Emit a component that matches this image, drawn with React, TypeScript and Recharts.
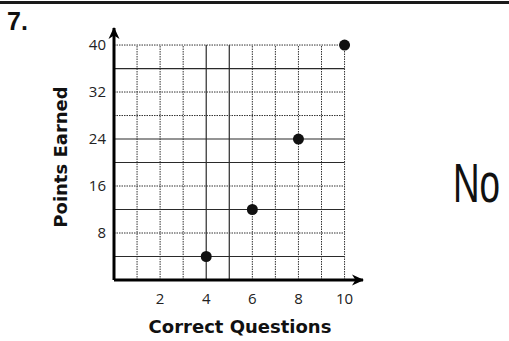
import {
  ScatterChart,
  Scatter,
  XAxis,
  YAxis,
  ReferenceLine,
  Label,
} from "recharts";

// plotted results
const correctQuestions = [4, 6, 8, 10];
const pointsEarned = [4, 12, 24, 40];

// tick labels and grid positions
const xTicks = [2, 4, 6, 8, 10];
const yTicks = [8, 16, 24, 32, 40];
const xGrid = [1, 2, 3, 4, 5, 6, 7, 8, 9, 10];
const yGrid = [4, 8, 12, 16, 20, 24, 28, 32, 36, 40];

// the axes run a little past the last grid line to make room for arrows
const X_MAX = 10;
const Y_MAX = 40;
const X_AXIS_END = 10.8;
const Y_AXIS_END = 42.9;

// printed grid has a few heavier lines
const heavyX = [4, 5];
const heavyY = [4, 12, 20, 24, 36];

const points = correctQuestions.map((x, i) => ({ x, y: pointsEarned[i] }));

const tickStyle = { fontSize: 15, fill: "#222", fontFamily: "'Open Sans', sans-serif" };
const titleFont = "'DejaVu Sans', sans-serif";

const Dot = (props: any) => (
  <circle cx={props.cx} cy={props.cy} r={5.5} fill="#111" />
);

const gridStroke = (heavy: boolean) =>
  heavy
    ? { stroke: "#2a2a2a", strokeWidth: 1.2 }
    : { stroke: "#333", strokeWidth: 1, strokeDasharray: "1.5 1" };

export default function App() {
  return (
    <div
      style={{
        position: "absolute",
        left: 0,
        top: 0,
        width: 509,
        height: 341,
        background: "#fff",
        overflow: "hidden",
      }}
    >
      <svg width={0} height={0} style={{ position: "absolute" }}>
        <defs>
          <marker
            id="axisArrow"
            viewBox="0 0 12 12"
            refX={11}
            refY={6}
            markerWidth={12}
            markerHeight={12}
            markerUnits="userSpaceOnUse"
            orient="auto-start-reverse"
          >
            <path d="M0,0.5 L12,6 L0,11.5 L3.5,6 z" fill="#000" />
          </marker>
        </defs>
      </svg>

      <div
        style={{
          position: "absolute",
          left: 0,
          top: 1,
          width: 509,
          height: 3,
          background: "#1a1a1a",
        }}
      />
      <div
        style={{
          position: "absolute",
          left: 7,
          top: 7,
          fontFamily: "'Liberation Sans', Arial, sans-serif",
          fontWeight: 700,
          fontSize: 25,
          color: "#111",
        }}
      >
        7.
      </div>
      {/* handwritten answer, squeezed horizontally */}
      <div
        style={{
          position: "absolute",
          left: 453,
          top: 156,
          fontFamily: "'Liberation Sans', sans-serif",
          fontWeight: 400,
          fontSize: 55,
          color: "#111",
          lineHeight: 1,
          transform: "scaleX(0.67)",
          transformOrigin: "0 0",
          whiteSpace: "nowrap",
        }}
      >
        No
      </div>

      <ScatterChart
        width={509}
        height={341}
        margin={{ top: 28, right: 146, bottom: 0, left: 54 }}
        style={{ position: "absolute", left: 0, top: 0 }}
      >
        {xGrid.map((v) => (
          <ReferenceLine
            key={"gx" + v}
            segment={[
              { x: v, y: 0 },
              { x: v, y: Y_MAX },
            ]}
            {...gridStroke(heavyX.includes(v))}
          />
        ))}
        {yGrid.map((v) => (
          <ReferenceLine
            key={"gy" + v}
            segment={[
              { x: 0, y: v },
              { x: X_MAX, y: v },
            ]}
            {...gridStroke(heavyY.includes(v))}
          />
        ))}
        <XAxis
          type="number"
          dataKey="x"
          domain={[0, X_AXIS_END]}
          ticks={xTicks}
          allowDataOverflow
          height={61}
          tickLine={false}
          tickSize={0}
          tickMargin={13}
          tick={tickStyle}
          axisLine={{
            stroke: "#000",
            strokeWidth: 3,
            markerEnd: "url(#axisArrow)",
          }}
        >
          <Label
            content={({ viewBox }: any) => (
              <text
                x={viewBox.x + 126}
                y={viewBox.y + 53}
                textAnchor="middle"
                fontFamily={titleFont}
                fontWeight={700}
                fontSize={18}
                fill="#111"
              >
                Correct Questions
              </text>
            )}
          />
        </XAxis>
        <YAxis
          type="number"
          dataKey="y"
          domain={[0, Y_AXIS_END]}
          ticks={yTicks}
          allowDataOverflow
          width={60}
          tickLine={false}
          tickSize={0}
          tickMargin={8}
          tick={tickStyle}
          axisLine={{
            stroke: "#000",
            strokeWidth: 3,
            markerStart: "url(#axisArrow)",
          }}
        >
          <Label
            content={({ viewBox }: any) => {
              const cx = viewBox.x + 13;
              const cy = 157;
              return (
                <text
                  x={cx}
                  y={cy}
                  transform={`rotate(-90 ${cx} ${cy})`}
                  textAnchor="middle"
                  fontFamily={titleFont}
                  fontWeight={700}
                  fontSize={18}
                  fill="#111"
                >
                  Points Earned
                </text>
              );
            }}
          />
        </YAxis>
        <Scatter data={points} shape={Dot} isAnimationActive={false} />
      </ScatterChart>
    </div>
  );
}
